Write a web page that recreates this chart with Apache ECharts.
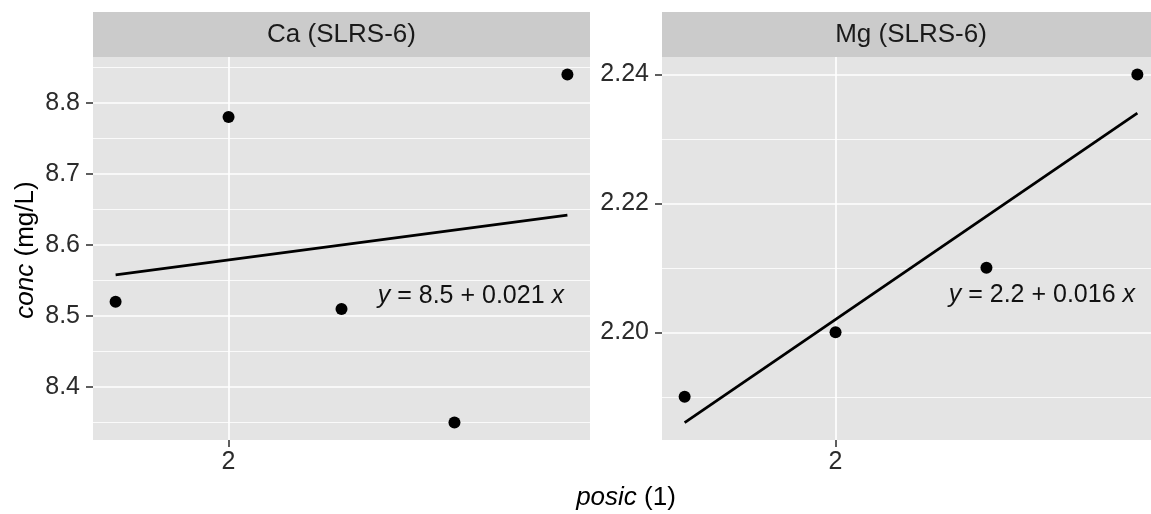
<!DOCTYPE html>
<html><head><meta charset="utf-8">
<script src="https://cdn.jsdelivr.net/npm/echarts@6/dist/echarts.min.js"></script>
<style>html,body{margin:0;padding:0;background:#fff}#c{width:1151px;height:514px}</style>
</head><body><div id="c"></div>
<script>
// ---- data ----
const panelTitles = ['Ca (SLRS-6)', 'Mg (SLRS-6)'];
const posicCa = [1, 2, 3, 4, 5];
const concCa = [8.52, 8.78, 8.51, 8.35, 8.84];
const posicMg = [1, 2, 3, 4];
const concMg = [2.19, 2.20, 2.21, 2.24];
const fitPosicCa = [1, 5];
const fitConcCa = [8.558, 8.642];
const fitPosicMg = [1, 4];
const fitConcMg = [2.186, 2.234];
const equations = ['{i|y} = 8.5 + 0.021 {i|x}', '{i|y} = 2.2 + 0.016 {i|x}'];
const xTicks = [2];
const xTickLabels = ['2'];
const yTicksCa = [8.4, 8.5, 8.6, 8.7, 8.8];
const yTickLabelsCa = ['8.4', '8.5', '8.6', '8.7', '8.8'];
const yMinorCa = [8.35, 8.45, 8.55, 8.65, 8.75, 8.85];
const yTicksMg = [2.20, 2.22, 2.24];
const yTickLabelsMg = ['2.20', '2.22', '2.24'];
const yMinorMg = [2.19, 2.21, 2.23];
const xRangeCa = [0.8, 5.2];
const yRangeCa = [8.3255, 8.8645];
const xRangeMg = [0.85, 4.15];
const yRangeMg = [2.1833, 2.2427];
const xTitle = '{i|posic} (1)';
const yTitle = '{i|conc} (mg/L)';

// ---- chart ----
const chart = echarts.init(document.getElementById('c'), null, {renderer: 'canvas'});
const FONT = 'Liberation Sans, Arial, sans-serif';
const tickColor = '#2b2b2b';
const pair = (xs, ys) => xs.map((x, i) => [x, ys[i]]);
const labelMap = (vals, labs) => (v) => {
  for (let i = 0; i < vals.length; i++) if (Math.abs(vals[i] - v) < 1e-9) return labs[i];
  return '';
};

function xAxisCfg(grid, range) {
  return {
    type: 'value', gridIndex: grid, min: range[0], max: range[1],
    axisLine: {show: false},
    axisTick: {show: true, customValues: xTicks, length: 7, lineStyle: {color: tickColor, width: 1.5}},
    axisLabel: {show: true, customValues: xTicks, formatter: labelMap(xTicks, xTickLabels),
      fontSize: 25, color: tickColor, fontFamily: FONT, margin: 10},
    splitLine: {show: true, lineStyle: {color: '#ffffff', width: 1.6}}
  };
}
function yMajorCfg(grid, range, ticks, labs) {
  return {
    type: 'value', gridIndex: grid, min: range[0], max: range[1], position: 'left', z: 3,
    axisLine: {show: false},
    axisTick: {show: true, customValues: ticks, length: 7, lineStyle: {color: tickColor, width: 1.5}},
    axisLabel: {show: true, customValues: ticks, formatter: labelMap(ticks, labs),
      fontSize: 25, color: tickColor, fontFamily: FONT, margin: 13},
    splitLine: {show: true, lineStyle: {color: '#ffffff', width: 1.6}}
  };
}
function yMinorCfg(grid, range, ticks) {
  return {
    type: 'value', gridIndex: grid, min: range[0], max: range[1], position: 'left', z: 1,
    axisLine: {show: false},
    axisTick: {show: false, customValues: ticks},
    axisLabel: {show: false, customValues: ticks},
    splitLine: {show: true, lineStyle: {color: '#ffffff', width: 0.8}}
  };
}

const gridBase = {top: 57, height: 383, show: true, backgroundColor: '#E4E4E4', borderWidth: 0,
  containLabel: false, outerBoundsMode: 'none'};
const option = {
  animation: false,
  backgroundColor: '#ffffff',
  grid: [
    Object.assign({left: 93, width: 497}, gridBase),
    Object.assign({left: 662, width: 498}, gridBase)
  ],
  xAxis: [xAxisCfg(0, xRangeCa), xAxisCfg(1, xRangeMg)],
  yAxis: [
    yMajorCfg(0, yRangeCa, yTicksCa, yTickLabelsCa),
    yMinorCfg(0, yRangeCa, yMinorCa),
    yMajorCfg(1, yRangeMg, yTicksMg, yTickLabelsMg),
    yMinorCfg(1, yRangeMg, yMinorMg)
  ],
  series: [
    {type: 'line', xAxisIndex: 0, yAxisIndex: 0, data: pair(fitPosicCa, fitConcCa), showSymbol: false,
      lineStyle: {color: '#000', width: 2.8}, z: 4, silent: true},
    {type: 'scatter', xAxisIndex: 0, yAxisIndex: 0, data: pair(posicCa, concCa), symbolSize: 12,
      itemStyle: {color: '#000', opacity: 1}, z: 5},
    {type: 'line', xAxisIndex: 1, yAxisIndex: 2, data: pair(fitPosicMg, fitConcMg), showSymbol: false,
      lineStyle: {color: '#000', width: 2.8}, z: 4, silent: true},
    {type: 'scatter', xAxisIndex: 1, yAxisIndex: 2, data: pair(posicMg, concMg), symbolSize: 12,
      itemStyle: {color: '#000', opacity: 1}, z: 5}
  ],
  graphic: [
    {type: 'rect', shape: {x: 93, y: 12, width: 497, height: 45}, style: {fill: '#CBCBCB'}, z: 1},
    {type: 'rect', shape: {x: 662, y: 12, width: 498, height: 45}, style: {fill: '#CBCBCB'}, z: 1},
    {type: 'text', x: 341.5, y: 35, z: 2, style: {text: panelTitles[0], fill: '#1a1a1a', font: '26px ' + FONT, align: 'center', verticalAlign: 'middle'}},
    {type: 'text', x: 911, y: 35, z: 2, style: {text: panelTitles[1], fill: '#1a1a1a', font: '26px ' + FONT, align: 'center', verticalAlign: 'middle'}},
    {type: 'text', x: 564, y: 296, z: 10, style: {text: equations[0], fill: '#111', fontSize: 25, fontFamily: FONT, align: 'right', verticalAlign: 'middle',
      rich: {i: {fontStyle: 'italic', fontSize: 25, fontFamily: FONT, fill: '#111'}}}},
    {type: 'text', x: 1135, y: 295, z: 10, style: {text: equations[1], fill: '#111', fontSize: 25, fontFamily: FONT, align: 'right', verticalAlign: 'middle',
      rich: {i: {fontStyle: 'italic', fontSize: 25, fontFamily: FONT, fill: '#111'}}}},
    {type: 'text', x: 626, y: 498, z: 10, style: {text: xTitle, fill: '#000', fontSize: 26, fontFamily: FONT, align: 'center', verticalAlign: 'middle',
      rich: {i: {fontStyle: 'italic', fontSize: 26, fontFamily: FONT, fill: '#000'}}}},
    {type: 'text', x: 26, y: 250, rotation: Math.PI / 2, z: 10, style: {text: yTitle, fill: '#000', fontSize: 26, fontFamily: FONT, align: 'center', verticalAlign: 'middle',
      rich: {i: {fontStyle: 'italic', fontSize: 26, fontFamily: FONT, fill: '#000'}}}}
  ]
};
chart.setOption(option);
</script>
</body></html>
